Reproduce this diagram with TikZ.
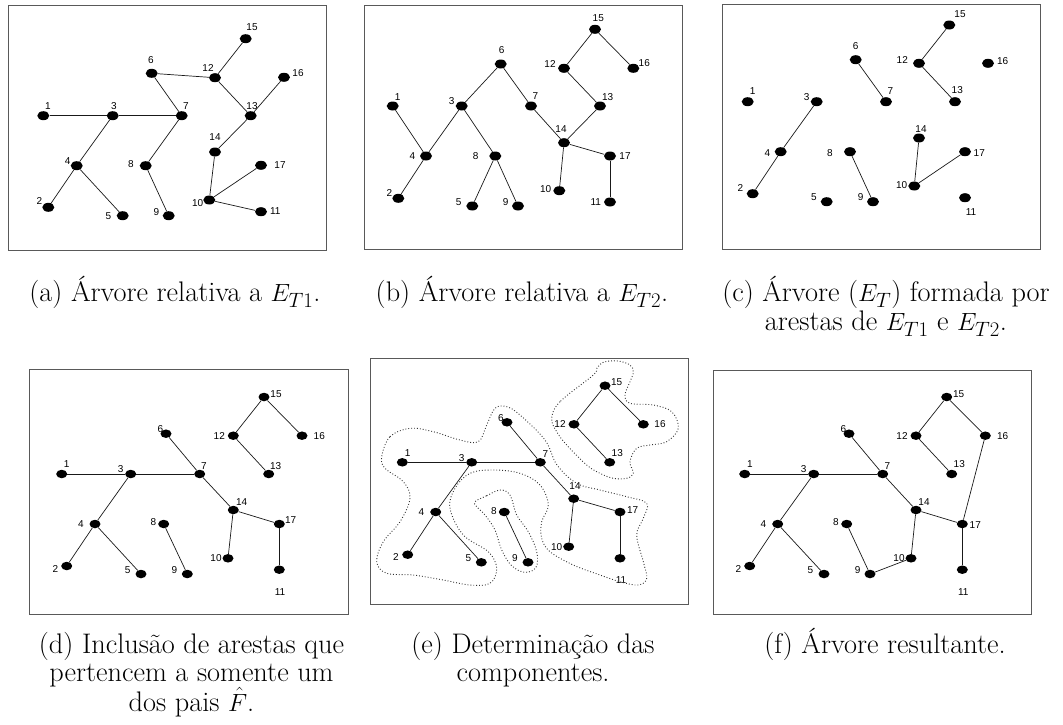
\documentclass[tikz,border=0pt]{standalone}
\usepackage{fontspec}
\newfontfamily\labfont{Liberation Sans}
\usetikzlibrary{shapes.geometric}
\tikzset{
  dotA/.style={ellipse, fill=black, draw=none, minimum width=12pt, minimum height=9pt, inner sep=0pt},
  dotB/.style={ellipse, fill=black, draw=none, minimum width=11pt, minimum height=8.5pt, inner sep=0pt},
  lab/.style={font=\labfont\fontsize{10}{12}\selectfont, inner sep=0pt, text=black},
  edge/.style={line width=0.7pt, black!90},
  frame/.style={draw=black!65, line width=1pt},
  contour/.style={dotted, line width=0.9pt, black!80},
  captext/.style={font=\fontsize{28.3}{34}\selectfont, inner sep=0pt, anchor=base}
}
\begin{document}
\begin{tikzpicture}[x=1pt,y=-1pt]
\useasboundingbox (0,0) rectangle (1063,724);

% frames
\draw[frame] (8,5) rectangle (326,250);
\draw[frame] (364,5) rectangle (682,249);
\draw[frame] (722,4) rectangle (1040,249);
\draw[frame] (29,369) rectangle (348,614);
\draw[frame] (370,358) rectangle (688,604);
\draw[frame] (713,370) rectangle (1031,614);

% ---------- panel (a)
\foreach \n/\x/\y/\u/\v in {1/43.3/115.7/48/106, 2/48.3/207.3/39.3/201, 3/112.7/115.7/114/106, 4/76.7/165.7/67.7/160.7, 5/122.7/215.7/108.3/216, 6/151.7/73.3/151/60, 7/181.7/115.7/186/106, 8/145.7/165.7/131/164, 9/168.7/215.7/156.3/211.7, 10/209.3/200/197.7/202.7, 11/261/211.7/275.3/210.7, 12/215/77.7/208/68, 13/250.7/115.7/252/106, 14/215/152/215/137, 15/245.7/38.7/252/27, 16/284/77.3/298/73, 17/261/165.3/280/165}
  {\node[dotA] (a\n) at (\x,\y) {}; \node[lab] (la\n) at (\u,\v) {\n};}
\foreach \s/\t in {1/3, 3/7, 3/4, 4/2, 4/5, 6/7, 6/12, 12/15, 12/13, 16/13, 7/8, 8/9, 13/14, 14/10, 10/17, 10/11}
  {\draw[edge] (a\s) -- (a\t);}

% ---------- panel (b)
\foreach \n/\x/\y/\u/\v in {1/392.7/106/397.7/96.7, 2/398.3/198.3/389.3/192.7, 3/461.7/106/451.7/101, 4/426/156/412.3/156, 5/472.3/206/458.7/202.3, 6/500.7/64/501.7/50, 7/531/106/535.3/95.7, 8/495.3/156/475.7/156, 9/518/206/505.7/202.3, 10/559.3/190.7/545.7/188.7, 11/610/202/595.7/202, 12/564/68.3/550/64.3, 13/600/106/607.7/96.7, 14/564/142.7/561/129.3, 15/595/29.3/598.3/18.3, 16/633.3/68.3/644.3/63.3, 17/610/156/625/155.7}
  {\node[dotA] (b\n) at (\x,\y) {}; \node[lab] (lb\n) at (\u,\v) {\n};}
\foreach \s/\t in {1/4, 4/3, 4/2, 3/6, 3/8, 8/5, 8/9, 6/7, 7/14, 14/13, 13/12, 12/15, 15/16, 14/10, 14/17, 17/11}
  {\draw[edge] (b\s) -- (b\t);}

% ---------- panel (c)
\foreach \n/\x/\y/\u/\v in {1/747.7/101.7/752.7/90.7, 2/752.7/193.7/740.3/188.3, 3/816.7/101.7/806.7/97.3, 4/780.7/151.7/767.3/152.7, 5/826.7/201.7/814/197.3, 6/855.7/59.7/855.7/45.7, 7/886/101.7/890.3/90.7, 8/850/151.7/830/152.7, 9/873/201.7/860.7/197.3, 10/914.3/186/901.7/185.3, 11/965/197.7/971/211.7, 12/919/63.3/902.3/60, 13/955/101.7/957.3/90, 14/919/138/921/128.7, 15/949.3/25/960/14, 16/988/63.3/1002.7/61, 17/965/151.7/979.3/152.7}
  {\node[dotA] (c\n) at (\x,\y) {}; \node[lab] (lc\n) at (\u,\v) {\n};}
\foreach \s/\t in {3/4, 4/2, 6/7, 15/12, 12/13, 8/9, 14/10, 10/17}
  {\draw[edge] (c\s) -- (c\t);}

% ---------- panel (d)
\foreach \n/\x/\y/\u/\v in {1/61.7/474/66.7/464, 2/66.7/566/55.3/569.3, 3/130.7/474/120.7/469, 4/95/524/81/524, 5/141/574/127.7/570.3, 6/166/433.7/160.3/429, 7/199.7/474/204/465.7, 8/163.7/524/153.3/522.3, 9/187.3/574/174.3/570.3, 10/228/558.3/216/557.7, 11/279.3/569.7/280/591.7, 12/233.3/435.7/219.3/435.7, 13/268.7/474/275.7/465.7, 14/233.3/510/241.7/502, 15/264/397/276/394, 16/302/435.7/319.3/435.7, 17/279.3/524/290.7/520}
  {\node[dotB] (d\n) at (\x,\y) {}; \node[lab] (ld\n) at (\u,\v) {\n};}
\foreach \s/\t in {1/3, 3/7, 3/4, 4/2, 4/5, 6/7, 7/14, 14/10, 14/17, 17/11, 8/9, 15/12, 15/16, 12/13}
  {\draw[edge] (d\s) -- (d\t);}

% ---------- panel (e)
\foreach \n/\x/\y/\u/\v in {1/402.3/462.3/407.7/452.7, 2/407.7/554.7/396/556.7, 3/471.7/462.3/461.7/457.7, 4/435.7/512/421.3/512, 5/481.3/562.3/468.3/558, 6/507/422.3/501/417.7, 7/540.3/462.3/545.3/454.3, 8/504.3/512/494/511, 9/528/562.3/515/558, 10/568.7/546.7/556.7/546.7, 11/620/558.3/621/580, 12/574/424.3/560/424.3, 13/609.7/462.3/617.3/453.3, 14/573.7/498.7/575/486, 15/605/385.7/616.7/382.3, 16/643.3/424.3/660/424.3, 17/620/512/632.7/510.3}
  {\node[dotB] (e\n) at (\x,\y) {}; \node[lab] (le\n) at (\u,\v) {\n};}
\foreach \s/\t in {1/3, 3/7, 3/4, 4/2, 4/5, 6/7, 7/14, 14/10, 14/17, 17/11, 8/9, 15/12, 15/16, 12/13}
  {\draw[edge] (e\s) -- (e\t);}
% contours
\draw[contour] plot[smooth cycle, tension=0.6] coordinates {
 (381.7,456.7) (390,436.7) (410,428.3) (433.3,431.7) (460,440) (478.3,441.7)
 (486.7,425) (495,408.3) (506.7,406.7) (520,415) (545,440) (557,465)
 (576.7,483.3) (600,490) (626.7,496.7) (646.7,503.3) (643.3,518.3) (636.7,535)
 (643.3,561.7) (646.7,578.3) (638.3,585) (620,581.7) (600,575) (573.3,565)
 (550,551.7) (541.7,538.3) (541.7,521.7) (548.3,505) (540,485) (520,473.3)
 (493.3,470) (470,473.3) (455,488.3) (450,508.3) (463.3,535) (488.3,551.7)
 (496.7,568.3) (490,583.3) (470,585) (443.3,580) (413.3,575) (386.7,573.3)
 (376.7,561.7) (383.3,541.7) (400,521.7) (410,498.3) (403.3,481.7) (385,468.3)};
\draw[contour] plot[smooth cycle, tension=0.6] coordinates {
 (475,501.7) (486.7,495.7) (500,490) (510,495) (516.7,515) (528.3,531.7)
 (536.7,551.7) (536,567.3) (525,572.3) (511.7,565.7) (501.7,550) (495,530)
 (485,515) (476.7,506.7)};
\draw[contour] plot[smooth cycle, tension=0.6] coordinates {
 (593.3,375) (560,401.7) (551.7,418.3) (556.7,431.7) (566.7,445) (586.7,465)
 (600,473.3) (613.3,478.3) (626.7,478.3) (633.3,473.3) (630,461.7) (636.7,448.3)
 (650,445) (666.7,441.7) (678.3,428.3) (671.7,411.7) (653.3,405) (630,403.3)
 (625,395) (630,381.7) (633.3,372) (630,365) (618,361) (604,362) (597,368)};

% ---------- panel (f)
\foreach \n/\x/\y/\u/\v in {1/744.7/474/750/464, 2/749.7/566/738.3/569.3, 3/813.7/474/803.7/469, 4/777.7/524/763.3/524, 5/824/574/810.3/570.3, 6/849/433.7/843.3/429, 7/882.7/474/887.3/465.7, 8/846.7/524/836/522.3, 9/870/574/857.7/570.3, 10/911/558.3/899/557.7, 11/962.3/569.7/963.3/591.7, 12/916/435.7/902/435.7, 13/951.7/474/959.3/464.3, 14/916/510/924/502, 15/946.7/397/958.7/394, 16/985.3/435.7/1002.7/435.7, 17/962.3/524/975.3/524.7}
  {\node[dotB] (f\n) at (\x,\y) {}; \node[lab] (lf\n) at (\u,\v) {\n};}
\foreach \s/\t in {1/3, 3/7, 3/4, 4/2, 4/5, 6/7, 7/14, 14/10, 14/17, 17/11, 8/9, 9/10, 15/12, 15/16, 12/13, 16/17}
  {\draw[edge] (f\s) -- (f\t);}

% ---------- captions
\node[captext] (capa) at (175,301.5) {(a) Árvore relativa a $E_{T1}$.};
\node[captext] (capb) at (522,301.5) {(b) Árvore relativa a $E_{T2}$.};
\node[captext] (capc1) at (886,301.5) {(c) Árvore ($E_T$) formada por};
\node[captext] (capc2) at (886,330.5) {arestas de $E_{T1}$ e $E_{T2}$.};
\node[captext] (capd1) at (191.5,653) {(d) Inclusão de arestas que};
\node[captext] (capd2) at (191.5,681.5) {pertencem a somente um};
\node[captext] (capd3) at (191.5,711) {dos pais $\hat{F}$.};
\node[captext] (cape1) at (533,653) {(e) Determinação das};
\node[captext] (cape2) at (533,681.5) {componentes.};
\node[captext] (capf) at (885,653) {(f) Árvore resultante.};
\end{tikzpicture}
\end{document}
